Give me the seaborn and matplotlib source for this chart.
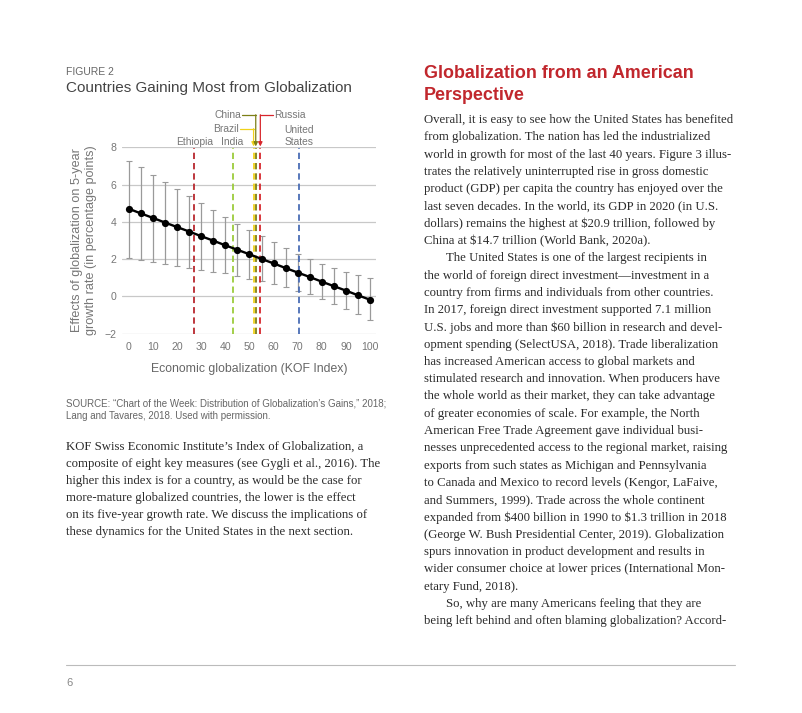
import numpy as np
import matplotlib
matplotlib.use("Agg")
import matplotlib.pyplot as plt
from matplotlib.lines import Line2D
import seaborn as sns

# --- chart data ---
kof_index = [0, 5, 10, 15, 20, 25, 30, 35, 40, 45, 50, 55, 60, 65, 70, 75, 80, 85, 90, 95, 100]
effect = [4.70, 4.45, 4.21, 3.96, 3.72, 3.48, 3.23, 2.99, 2.74, 2.50, 2.26,
          2.01, 1.77, 1.52, 1.28, 1.04, 0.79, 0.55, 0.31, 0.06, -0.18]
upper = [7.29, 6.92, 6.51, 6.13, 5.76, 5.37, 5.01, 4.63, 4.26, 3.90, 3.57,
         3.23, 2.90, 2.58, 2.26, 2.01, 1.73, 1.53, 1.32, 1.14, 0.98]
lower = [2.07, 1.96, 1.85, 1.73, 1.62, 1.53, 1.44, 1.32, 1.23, 1.09, 0.94,
         0.82, 0.66, 0.50, 0.29, 0.11, -0.14, -0.39, -0.66, -0.93, -1.28]

countries = ["Ethiopia", "India", "Brazil", "China", "Russia", "United States"]
country_kof = [27.1, 43.0, 51.7, 52.6, 54.5, 70.6]
country_colors = ["#b8282e", "#9ccb3b", "#f0d21b", "#7d7f16", "#d7262c", "#4a6db5"]

left_text = [
    "KOF Swiss Economic Institute\u2019s Index of Globalization, a",
    "composite of eight key measures (see Gygli et al., 2016). The",
    "higher this index is for a country, as would be the case for",
    "more-mature globalized countries, the lower is the effect",
    "on its five-year growth rate. We discuss the implications of",
    "these dynamics for the United States in the next section.",
]

right_text = [
    "Overall, it is easy to see how the United States has benefited",
    "from globalization. The nation has led the industrialized",
    "world in growth for most of the last 40 years. Figure 3 illus-",
    "trates the relatively uninterrupted rise in gross domestic",
    "product (GDP) per capita the country has enjoyed over the",
    "last seven decades. In the world, its GDP in 2020 (in U.S.",
    "dollars) remains the highest at $20.9 trillion, followed by",
    "China at $14.7 trillion (World Bank, 2020a).",
    "\tThe United States is one of the largest recipients in",
    "the world of foreign direct investment\u2014investment in a",
    "country from firms and individuals from other countries.",
    "In 2017, foreign direct investment supported 7.1 million",
    "U.S. jobs and more than $60 billion in research and devel-",
    "opment spending (SelectUSA, 2018). Trade liberalization",
    "has increased American access to global markets and",
    "stimulated research and innovation. When producers have",
    "the whole world as their market, they can take advantage",
    "of greater economies of scale. For example, the North",
    "American Free Trade Agreement gave individual busi-",
    "nesses unprecedented access to the regional market, raising",
    "exports from such states as Michigan and Pennsylvania",
    "to Canada and Mexico to record levels (Kengor, LaFaive,",
    "and Summers, 1999). Trade across the whole continent",
    "expanded from $400 billion in 1990 to $1.3 trillion in 2018",
    "(George W. Bush Presidential Center, 2019). Globalization",
    "spurs innovation in product development and results in",
    "wider consumer choice at lower prices (International Mon-",
    "etary Fund, 2018).",
    "\tSo, why are many Americans feeling that they are",
    "being left behind and often blaming globalization? Accord-",
]

sns.set_style("white")
plt.rcParams["font.family"] = ["Liberation Sans", "DejaVu Sans"]

W, H = 802, 713
fig = plt.figure(figsize=(W / 100, H / 100), dpi=100)


def px(x, y):
    return x / W, 1 - y / H


SANS = ["Liberation Sans", "DejaVu Sans"]
SERIF = ["Liberation Serif", "DejaVu Serif"]
BODY = "#2b2b2b"

# figure header
fig.text(*px(66, 72), "FIGURE 2", family=SANS, fontsize=7.5, color="#666666", va="center")
fig.text(*px(66, 88), "Countries Gaining Most from Globalization", family=SANS,
         fontsize=10.95, color="#444444", va="center")

# --- chart ---
ax = fig.add_axes([122 / W, 1 - 334 / H, 254 / W, 187 / H])
ax.set_xlim(-2.9, 102.5)
ax.set_ylim(-2.02, 8.02)

ax.errorbar(kof_index, effect,
            yerr=[np.array(effect) - np.array(lower), np.array(upper) - np.array(effect)],
            fmt="none", ecolor="#9a9a9a", elinewidth=0.9, capsize=2.0, capthick=0.8, zorder=2)

ax.vlines(country_kof, -2, 7.95, colors=country_colors, linestyles=(0, (3.5, 2.2)),
          linewidth=1.3, zorder=3)

sns.lineplot(x=kof_index, y=effect, color="black", linewidth=1.7, marker="o",
             markersize=5.2, markeredgewidth=0, ax=ax, zorder=5)

ax.set_yticks(range(-2, 9, 2))
ax.set_xticks(range(0, 101, 10))
ax.yaxis.grid(True, color="#c8c8c8", linewidth=0.9)
ax.set_axisbelow(True)
for s in ax.spines.values():
    s.set_visible(False)
ax.tick_params(axis="y", length=0, pad=4, labelsize=7.6, labelcolor="#777777")
ax.tick_params(axis="x", direction="in", length=4, width=0.8, color="#bbbbbb",
               pad=5.5, labelsize=7.6, labelcolor="#777777")
ax.set_xlabel("Economic globalization (KOF Index)", fontsize=8.8, color="#666666",
              labelpad=8)
ax.set_ylabel("Effects of globalization on 5-year\ngrowth rate (in percentage points)",
              fontsize=9.1, color="#777777", labelpad=5, linespacing=1.3)

# country labels
lab = dict(fontsize=7.4, color="#777777", va="center", clip_on=False)
ax.text(country_kof[0], 8.30, countries[0], ha="center", **lab)
ax.text(country_kof[1], 8.30, countries[1], ha="center", **lab)
ax.text(country_kof[5], 8.93, "United", ha="center", **lab)
ax.text(country_kof[5], 8.29, "States", ha="center", **lab)
ax.text(45.6, 8.98, countries[2], ha="right", **lab)
ax.text(46.5, 9.73, countries[3], ha="right", **lab)
ax.text(60.2, 9.73, countries[4], ha="left", **lab)

# leader lines with arrowheads
for name, x0, y0 in [("Brazil", 46.2, 8.98), ("China", 47.1, 9.73), ("Russia", 59.6, 9.73)]:
    i = countries.index(name)
    xc, col = country_kof[i], country_colors[i]
    ax.plot([x0, xc], [y0, y0], color=col, lw=0.9, clip_on=False, zorder=6)
    ax.annotate("", xy=(xc, 8.05), xytext=(xc, y0 + 0.02), annotation_clip=False,
                arrowprops=dict(arrowstyle="-|>", color=col, lw=0.9,
                                mutation_scale=6, shrinkA=0, shrinkB=0))

# source
fig.text(*px(66, 404), "SOURCE: \u201cChart of the Week: Distribution of Globalization\u2019s Gains,\u201d 2018;",
         family=SANS, fontsize=7.0, color="#666666", va="center")
fig.text(*px(66, 416), "Lang and Tavares, 2018. Used with permission.",
         family=SANS, fontsize=7.0, color="#666666", va="center")

# left column body text
for i, line in enumerate(left_text):
    fig.text(*px(66, 447 + i * 16.9), line, family=SERIF, fontsize=9.2, color=BODY,
             va="center", parse_math=False)

# right column heading
fig.text(*px(424, 74), "Globalization from an American", family=SANS, fontweight="bold",
         fontsize=12.9, color="#c1272d", va="center")
fig.text(*px(424, 95), "Perspective", family=SANS, fontweight="bold",
         fontsize=12.9, color="#c1272d", va="center")

# right column body text
for i, line in enumerate(right_text):
    x = 424
    if line.startswith("\t"):
        line = line[1:]
        x = 446
    fig.text(*px(x, 120 + i * 17.28), line, family=SERIF, fontsize=9.2, color=BODY,
             va="center", parse_math=False)

# footer
fig.add_artist(Line2D([66 / W, 735 / W], [1 - 665 / H] * 2, color="#bbbbbb", lw=0.8))
fig.text(*px(66, 683), "6", family=SANS, fontsize=8, color="#888888", va="center")

fig.savefig("out.png", dpi=100)
